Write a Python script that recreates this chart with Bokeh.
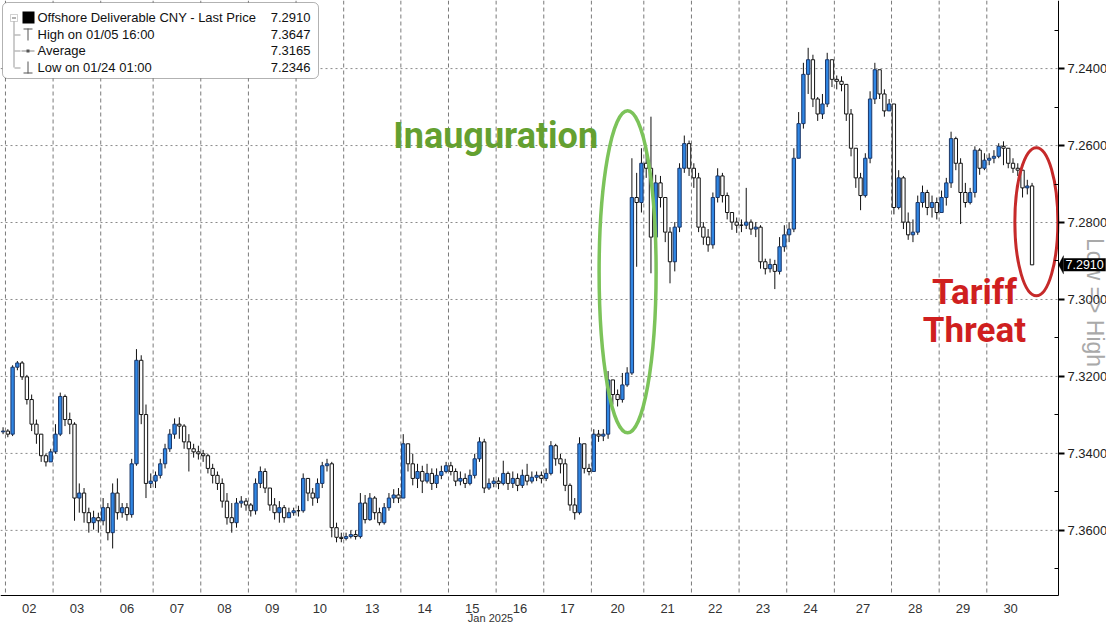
import numpy as np
from bokeh.plotting import figure
from bokeh.models import (Range1d, FixedTicker, PrintfTickFormatter, Label,
                          BoxAnnotation, PolyAnnotation)
from bokeh.embed import file_html
from bokeh.resources import INLINE

# ---------------- data ----------------
day_labels = ["02", "03", "06", "07", "08", "09", "10", "13", "14", "15", "16",
              "17", "20", "21", "22", "23", "24", "27", "28", "29", "30"]
day_counts = [10, 10, 11, 10, 10, 10, 10, 12, 10, 10, 10,
              10, 11, 10, 10, 10, 10, 12, 10, 10, 10]
pre_count = 1
month_label = "Jan 2025"

first_open = 7.3344
close = [
    7.3342,
    7.3350, 7.3176, 7.3165, 7.3201, 7.3260, 7.3324, 7.3350, 7.3406, 7.3422, 7.3396,
    7.3350, 7.3252, 7.3312, 7.3324, 7.3516, 7.3503, 7.3554, 7.3580, 7.3567, 7.3575,
    7.3541, 7.3606, 7.3503, 7.3554, 7.3541, 7.3559, 7.3427, 7.3158, 7.3299, 7.3478, 7.3472,
    7.3457, 7.3427, 7.3388, 7.3350, 7.3324, 7.3329, 7.3370, 7.3388, 7.3396, 7.3401,
    7.3406, 7.3439, 7.3457, 7.3478, 7.3524, 7.3567, 7.3580, 7.3529, 7.3524, 7.3534,
    7.3549, 7.3478, 7.3447, 7.3490, 7.3534, 7.3554, 7.3541, 7.3567, 7.3554, 7.3549,
    7.3549, 7.3465, 7.3503, 7.3516, 7.3478, 7.3432, 7.3427, 7.3593, 7.3618, 7.3621,
    7.3616, 7.3611, 7.3616, 7.3529, 7.3572, 7.3516, 7.3554, 7.3580, 7.3541, 7.3516, 7.3508, 7.3516,
    7.3375, 7.3427, 7.3465, 7.3447, 7.3472, 7.3452, 7.3478, 7.3457, 7.3447, 7.3432,
    7.3447, 7.3472, 7.3465, 7.3478, 7.3457, 7.3414, 7.3370, 7.3490, 7.3478, 7.3472,
    7.3478, 7.3452, 7.3478, 7.3465, 7.3483, 7.3457, 7.3472, 7.3462, 7.3457, 7.3465,
    7.3452, 7.3380, 7.3414, 7.3427, 7.3483, 7.3534, 7.3554, 7.3375, 7.3439, 7.3447,
    7.3350, 7.3355, 7.3350, 7.3209, 7.3247, 7.3260, 7.3222, 7.3191, 7.2735, 7.2748, 7.2646,
    7.2659, 7.2838, 7.2697, 7.2735, 7.2825, 7.2902, 7.2812, 7.2659, 7.2595, 7.2659,
    7.2684, 7.2812, 7.2838, 7.2858, 7.2735, 7.2679, 7.2730, 7.2774, 7.2799, 7.2807,
    7.2807, 7.2799, 7.2817, 7.2812, 7.2902, 7.2920, 7.2909, 7.2927, 7.2863, 7.2832,
    7.2817, 7.2633, 7.2543, 7.2415, 7.2377, 7.2479, 7.2518, 7.2492, 7.2377, 7.2428,
    7.2433, 7.2441, 7.2518, 7.2607, 7.2684, 7.2730, 7.2633, 7.2479, 7.2403, 7.2466, 7.2510, 7.2492,
    7.2761, 7.2684, 7.2799, 7.2832, 7.2825, 7.2748, 7.2722, 7.2761, 7.2748, 7.2774,
    7.2735, 7.2697, 7.2582, 7.2646, 7.2722, 7.2748, 7.2722, 7.2612, 7.2659, 7.2638,
    7.2633, 7.2628, 7.2602, 7.2607, 7.2646, 7.2659, 7.2664, 7.2710, 7.2705, 7.2910,
]
low = [
    7.3332,
    7.3337, 7.3171, 7.3160, 7.3160, 7.3196, 7.3247, 7.3312, 7.3350, 7.3401, 7.3388,
    7.3324, 7.3242, 7.3247, 7.3294, 7.3319, 7.3478, 7.3490, 7.3541, 7.3549, 7.3554,
    7.3516, 7.3529, 7.3478, 7.3465, 7.3529, 7.3529, 7.3414, 7.3129, 7.3145, 7.3273, 7.3452,
    7.3447, 7.3414, 7.3375, 7.3337, 7.3309, 7.3306, 7.3324, 7.3350, 7.3375, 7.3380,
    7.3391, 7.3401, 7.3427, 7.3447, 7.3465, 7.3503, 7.3529, 7.3516, 7.3511, 7.3516,
    7.3529, 7.3465, 7.3434, 7.3439, 7.3490, 7.3516, 7.3524, 7.3534, 7.3541, 7.3541,
    7.3536, 7.3452, 7.3465, 7.3490, 7.3465, 7.3422, 7.3414, 7.3422, 7.3580, 7.3606,
    7.3606, 7.3600, 7.3600, 7.3503, 7.3508, 7.3503, 7.3511, 7.3541, 7.3529, 7.3503, 7.3493, 7.3490,
    7.3350, 7.3375, 7.3401, 7.3427, 7.3432, 7.3427, 7.3439, 7.3439, 7.3432, 7.3422,
    7.3422, 7.3439, 7.3447, 7.3452, 7.3442, 7.3401, 7.3358, 7.3362, 7.3465, 7.3462,
    7.3462, 7.3419, 7.3447, 7.3447, 7.3452, 7.3442, 7.3427, 7.3447, 7.3447, 7.3447,
    7.3439, 7.3368, 7.3375, 7.3401, 7.3414, 7.3478, 7.3516, 7.3358, 7.3375, 7.3427,
    7.3337, 7.3339, 7.3337, 7.3186, 7.3209, 7.3234, 7.3191, 7.3176, 7.2633, 7.2671, 7.2607,
    7.2607, 7.2525, 7.2676, 7.2679, 7.2735, 7.2812, 7.2799, 7.2646, 7.2574, 7.2587,
    7.2646, 7.2671, 7.2799, 7.2817, 7.2722, 7.2659, 7.2671, 7.2722, 7.2774, 7.2787,
    7.2792, 7.2710, 7.2792, 7.2799, 7.2807, 7.2894, 7.2894, 7.2897, 7.2838, 7.2807,
    7.2799, 7.2607, 7.2513, 7.2385, 7.2346, 7.2364, 7.2474, 7.2466, 7.2359, 7.2390,
    7.2418, 7.2420, 7.2441, 7.2505, 7.2607, 7.2671, 7.2620, 7.2459, 7.2385, 7.2407, 7.2454, 7.2479,
    7.2492, 7.2664, 7.2679, 7.2774, 7.2792, 7.2730, 7.2704, 7.2715, 7.2730, 7.2735,
    7.2717, 7.2684, 7.2564, 7.2577, 7.2633, 7.2697, 7.2710, 7.2602, 7.2607, 7.2620,
    7.2620, 7.2612, 7.2594, 7.2589, 7.2607, 7.2633, 7.2646, 7.2664, 7.2689, 7.2697,
]
high = [
    7.3350,
    7.3358, 7.3355, 7.3184, 7.3209, 7.3273, 7.3342, 7.3375, 7.3422, 7.3434, 7.3411,
    7.3401, 7.3355, 7.3329, 7.3350, 7.3575, 7.3554, 7.3580, 7.3606, 7.3598, 7.3606,
    7.3587, 7.3626, 7.3647, 7.3572, 7.3567, 7.3575, 7.3567, 7.3432, 7.3324, 7.3516, 7.3490,
    7.3490, 7.3465, 7.3439, 7.3396, 7.3362, 7.3362, 7.3388, 7.3447, 7.3411, 7.3416,
    7.3422, 7.3452, 7.3478, 7.3495, 7.3541, 7.3585, 7.3606, 7.3593, 7.3541, 7.3549,
    7.3564, 7.3559, 7.3490, 7.3503, 7.3549, 7.3572, 7.3580, 7.3580, 7.3567, 7.3562,
    7.3564, 7.3554, 7.3524, 7.3536, 7.3529, 7.3490, 7.3447, 7.3618, 7.3631, 7.3631,
    7.3626, 7.3621, 7.3624, 7.3621, 7.3582, 7.3575, 7.3572, 7.3587, 7.3585, 7.3549, 7.3529, 7.3529,
    7.3516, 7.3447, 7.3483, 7.3490, 7.3503, 7.3478, 7.3495, 7.3490, 7.3467, 7.3452,
    7.3457, 7.3485, 7.3483, 7.3490, 7.3483, 7.3465, 7.3422, 7.3503, 7.3495, 7.3488,
    7.3493, 7.3483, 7.3495, 7.3490, 7.3498, 7.3490, 7.3483, 7.3478, 7.3472, 7.3478,
    7.3472, 7.3457, 7.3432, 7.3452, 7.3498, 7.3549, 7.3572, 7.3559, 7.3452, 7.3457,
    7.3447, 7.3370, 7.3368, 7.3362, 7.3273, 7.3278, 7.3268, 7.3227, 7.3196, 7.2915, 7.2774,
    7.2684, 7.2932, 7.2851, 7.2761, 7.2851, 7.2958, 7.2927, 7.2825, 7.2671, 7.2679,
    7.2710, 7.2825, 7.2858, 7.2876, 7.2868, 7.2748, 7.2748, 7.2792, 7.2819, 7.2827,
    7.2825, 7.2817, 7.2832, 7.2838, 7.2920, 7.2935, 7.2930, 7.2973, 7.2935, 7.2876,
    7.2851, 7.2825, 7.2633, 7.2556, 7.2466, 7.2500, 7.2536, 7.2531, 7.2500, 7.2448,
    7.2454, 7.2459, 7.2536, 7.2628, 7.2710, 7.2768, 7.2735, 7.2646, 7.2492, 7.2479, 7.2525, 7.2510,
    7.2779, 7.2766, 7.2817, 7.2845, 7.2851, 7.2832, 7.2761, 7.2781, 7.2787, 7.2792,
    7.2774, 7.2756, 7.2710, 7.2664, 7.2804, 7.2761, 7.2753, 7.2735, 7.2676, 7.2664,
    7.2651, 7.2646, 7.2633, 7.2651, 7.2659, 7.2671, 7.2679, 7.2735, 7.2727, 7.2910,
]

y_major = [7.24, 7.26, 7.28, 7.30, 7.32, 7.34, 7.36]
y_minor = [7.23, 7.25, 7.27, 7.29, 7.31, 7.33, 7.35, 7.37]
last_price = 7.2910
legend_rows = [("Offshore Deliverable CNY - Last Price", "7.2910"),
               ("High on 01/05 16:00", "7.3647"),
               ("Average", "7.3165"),
               ("Low on 01/24 01:00", "7.2346")]
inaug_label = "Inauguration"
tariff_lines = ["Tariff", "Threat"]
axis_note = "Low => High"

n = len(close)
assert n == len(low) == len(high) == pre_count + sum(day_counts)

# ---------------- derived positions ----------------
bounds = np.cumsum([pre_count] + day_counts)            # day boundaries (index units)
seps = bounds[:-1].tolist()
centers = [float(a + b) / 2 for a, b in zip(bounds[:-1], bounds[1:])]
x = np.arange(n) + 0.5
cl = np.array(close)
op = np.array([first_open] + close[:-1])
lo = np.array(low)
hi = np.array(high)
down = cl < op          # price falling -> blue (moves up on the inverted axis)
up = ~down

# ---------------- figure geometry ----------------
W, H = 1106, 623
X0, X_AX = -0.04, 222.05          # data-x at left edge and at the price axis
Y_TOP, Y_AX = 7.222308, 7.376923  # data-y at top edge and at the time axis
AXP, AYP = 1058.0, 595.0          # pixel location of the two axes
x_end = X0 + (X_AX - X0) * W / AXP
y_bot = Y_TOP + (Y_AX - Y_TOP) * H / AYP

p = figure(width=W, height=H, output_backend="svg", toolbar_location=None,
           x_range=Range1d(X0, x_end), y_range=Range1d(y_bot, Y_TOP),
           y_axis_location="right", x_axis_location="below", title=None,
           min_border=0, min_border_left=0, min_border_right=0,
           min_border_top=0, min_border_bottom=0,
           background_fill_color="white", border_fill_color="white",
           outline_line_color=None)
p.xgrid.visible = False
p.ygrid.visible = False

# y axis (price, drawn at a fixed location)
yax = p.yaxis[0]
yax.fixed_location = X_AX
yax.bounds = (Y_TOP, Y_AX)
yax.ticker = FixedTicker(ticks=y_major, minor_ticks=y_minor)
yax.formatter = PrintfTickFormatter(format="%.4f")
yax.axis_line_color = "black"
yax.major_tick_out = 6
yax.major_tick_in = 0
yax.major_tick_line_width = 2
yax.major_tick_line_color = "black"
yax.minor_tick_in = 4
yax.minor_tick_out = 0
yax.minor_tick_line_color = "black"
yax.major_label_standoff = 3
yax.major_label_text_font = "Liberation Sans"
yax.major_label_text_font_size = "13px"
yax.major_label_text_color = "#222222"

# x axis (time, drawn at a fixed location)
xax = p.xaxis[0]
xax.fixed_location = Y_AX
xax.bounds = (X0, X_AX)
xax.ticker = FixedTicker(ticks=centers)
xax.major_label_overrides = {c: lab for c, lab in zip(centers, day_labels)}
xax.major_tick_line_color = None
xax.minor_tick_line_color = None
xax.axis_line_color = "black"
xax.major_label_standoff = 2
xax.major_label_text_font = "Liberation Sans"
xax.major_label_text_font_size = "13px"
xax.major_label_text_color = "#333333"

# grid lines (from the tick arrays), limited to the plot area
p.segment(x0=[X0] * len(y_major), y0=y_major, x1=[X_AX] * len(y_major), y1=y_major,
          line_color="#8a8a8a", line_dash="2 3", line_width=1)
p.segment(x0=seps, y0=[Y_TOP] * len(seps), x1=seps, y1=[Y_AX] * len(seps),
          line_color="#7a7a7a", line_dash="4 3", line_width=1)

# ---------------- candles ----------------
p.segment(x0=x, y0=lo, x1=x, y1=hi, line_color="#111111", line_width=1)
p.vbar(x=x[up], top=cl[up], bottom=op[up], width=0.7,
       fill_color="white", line_color="#111111", line_width=1)
p.vbar(x=x[down], top=cl[down], bottom=op[down], width=0.7,
       fill_color="#2f86e4", line_color="#1a3668", line_width=1)

# ---------------- annotations ----------------
p.ellipse(x=[131.6], y=[7.2928], width=57, height=322,
          width_units="screen", height_units="screen",
          fill_color=None, line_color="#7cc35a", line_width=3.5)
p.ellipse(x=[x[n - 1] + 0.9], y=[7.2798], width=43, height=148,
          width_units="screen", height_units="screen",
          fill_color=None, line_color="#c62a2a", line_width=3)

p.add_layout(Label(x=103.9, y=7.2576, text=inaug_label, text_align="center",
                   text_baseline="alphabetic", text_font="Roboto",
                   text_font_style="bold", text_font_size="36px",
                   text_color="#64a030"))
p.add_layout(Label(x=204.4, y=7.2983, text=tariff_lines[0], text_align="center",
                   text_baseline="alphabetic", text_font="Roboto",
                   text_font_style="bold", text_font_size="35px",
                   text_color="#cf1f1f"))
p.add_layout(Label(x=204.4, y=7.3081, text=tariff_lines[1], text_align="center",
                   text_baseline="alphabetic", text_font="Roboto",
                   text_font_style="bold", text_font_size="35px",
                   text_color="#cf1f1f"))

# screen helpers: pixel (X from left, Y from top) -> frame screen units
def sx(X):
    return X

def sy(Y):
    return H - Y

# "Low => High" note, behind the tick labels
p.add_layout(Label(x=sx(1094), y=sy(302), x_units="screen", y_units="screen",
                   text=axis_note, angle=-np.pi / 2, text_align="center",
                   text_baseline="middle", text_font="Liberation Sans",
                   text_font_size="23px", text_color="#a9a9a9", level="underlay"))

# last price tag
p.add_layout(PolyAnnotation(xs=[sx(1058), sx(1063), sx(1063)],
                            ys=[last_price, last_price - 0.0024, last_price + 0.0024],
                            xs_units="screen", ys_units="data",
                            fill_color="black", fill_alpha=1.0, line_color="black"))
p.add_layout(Label(x=sx(1063), y=last_price, x_units="screen", y_units="data",
                   text=legend_rows[0][1], text_align="left", text_baseline="middle",
                   text_font="Liberation Sans", text_font_size="12.5px",
                   text_color="white", background_fill_color="black",
                   background_fill_alpha=1.0, padding=2))

# month label under the time axis
p.add_layout(Label(x=sx(490), y=sy(611), x_units="screen", y_units="screen",
                   text=month_label, text_align="center", text_baseline="top",
                   text_font="Liberation Sans", text_font_size="11px",
                   text_color="#333333"))

# ---------------- legend box ----------------
def sbox(XA, XB, YA, YB, fill, line=None, radius=0):
    return BoxAnnotation(left=sx(XA), right=sx(XB), top=sy(YA), bottom=sy(YB),
                         left_units="screen", right_units="screen",
                         top_units="screen", bottom_units="screen",
                         fill_color=fill, fill_alpha=1.0,
                         line_color=line, line_width=1, border_radius=radius,
                         level="overlay")

p.add_layout(sbox(2, 318, 2, 78, "white", "black", 5))
# tree decoration
p.add_layout(sbox(13, 14, 20, 67, "#999999"))
for ry in (34, 50, 67):
    p.add_layout(sbox(14, 20, ry, ry + 1, "#999999"))
p.add_layout(sbox(10, 17, 14, 21, "white", "#666666"))
p.add_layout(sbox(11.5, 15.5, 17, 18, "#666666"))
# series square
p.add_layout(sbox(22, 34, 11, 23, "black"))
# high icon (T)
p.add_layout(sbox(23, 32, 28, 29, "#555555"))
p.add_layout(sbox(27, 28, 28, 40, "#555555"))
# average icon
p.add_layout(sbox(21, 34, 50, 51, "#888888"))
p.add_layout(sbox(26, 29, 49, 52, "#555555"))
# low icon
p.add_layout(sbox(27, 28, 61, 73, "#555555"))
p.add_layout(sbox(23, 32, 72, 73, "#555555"))

row_y = [17, 34, 50, 67]
for (name, val), ry in zip(legend_rows, row_y):
    p.add_layout(Label(x=sx(37), y=sy(ry), x_units="screen", y_units="screen",
                       text=name, text_align="left", text_baseline="middle",
                       text_font="Liberation Sans", text_font_size="13px",
                       text_color="#111111", level="overlay"))
    p.add_layout(Label(x=sx(310), y=sy(ry), x_units="screen", y_units="screen",
                       text=val, text_align="right", text_baseline="middle",
                       text_font="Liberation Sans", text_font_size="13px",
                       text_color="#111111", level="overlay"))

open("out.html", "w").write(file_html(p, INLINE))
